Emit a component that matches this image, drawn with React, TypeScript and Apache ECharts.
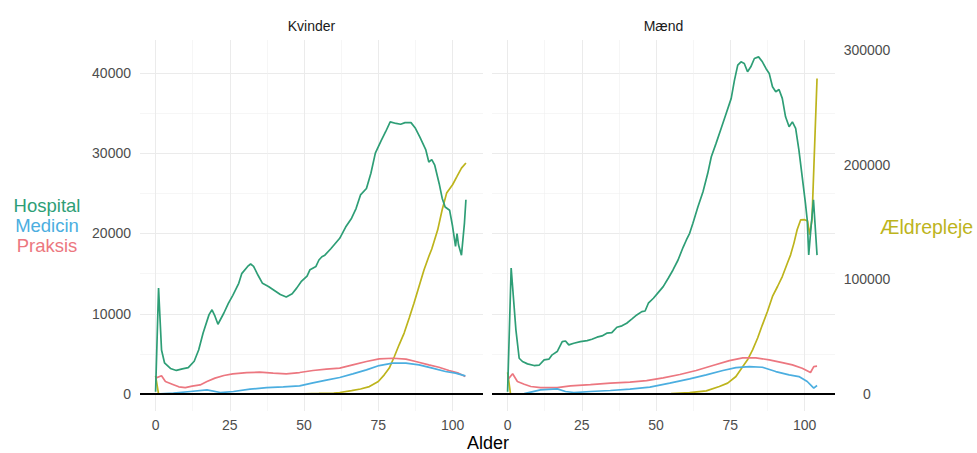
import React, { useEffect, useRef } from "react";
import * as echarts from "echarts";

// ---------- data ----------
const panels = ["Kvinder", "Mænd"];
const seriesNames = ["Hospital", "Medicin", "Praksis", "Ældrepleje"];
const ageRange = [0, 105];
const xTicks = [0, 25, 50, 75, 100];
const xMinorTicks = [12.5, 37.5, 62.5, 87.5];
const yTicks = [0, 10000, 20000, 30000, 40000];
const yMinorTicks = [5000, 15000, 25000, 35000];
const y2Ticks = [0, 100000, 200000, 300000];
const secondaryFactor = 7; // Ældrepleje drawn on a secondary axis = primary * 7

const kvinderHospital = [[0,300],[1,13200],[2,5500],[3,3900],[5,3200],[7,2950],[9,3150],[11,3300],[13,4100],[14.5,5500],[16,7600],[18,9900],[19,10500],[20,9700],[21,8700],[23,10100],[24.5,11300],[26,12300],[28,13800],[29,15000],[31,15900],[32,16200],[33,15900],[34.5,14800],[36,13800],[38,13400],[40,12900],[42,12400],[44,12100],[46,12500],[47.5,13200],[49,14000],[51,14700],[52,15500],[54,15900],[55,16700],[56,17100],[57,17300],[59,18100],[62,19400],[64,20800],[66,21900],[67.5,23100],[69,24800],[71,25600],[72.5,27500],[74,30000],[76,31600],[77.5,32700],[79,33900],[81,33700],[82.5,33600],[84,33800],[86,33800],[87.5,33100],[89,32000],[91,30400],[92,28900],[93,29200],[94,28500],[95.5,26200],[96.5,24400],[97.5,23300],[99,22900],[100,20900],[101,18400],[101.5,20000],[102,18600],[103,17300],[104,21300],[104.5,24200]];
const kvinderMedicin = [[0,0],[6,120],[11.7,330],[17.3,530],[21.8,200],[26.2,330],[31.8,620],[37.4,820],[43,910],[48.5,1030],[53,1410],[57.5,1740],[62,2070],[66.4,2530],[71,3020],[75.3,3560],[79.8,3850],[84.3,3850],[88.7,3640],[93.2,3230],[97.6,2820],[101,2610],[104.3,2280]];
const kvinderPraksis = [[0,1990],[2,2280],[3.3,1570],[5.6,1240],[7.8,910],[10,820],[12.3,990],[15,1150],[17.3,1570],[20,1990],[23,2320],[26,2520],[30.7,2690],[35,2730],[39.6,2610],[44,2530],[48.5,2690],[53,2940],[57.5,3110],[62,3230],[66.4,3640],[71,4060],[75.3,4390],[80,4470],[84.3,4350],[87.6,4060],[92,3640],[95.4,3350],[98.8,2940],[102,2610],[104.3,2190]];
const kvinderAeldrepleje = [[0,16000],[1,0],[10,0],[30,0],[50,300],[55,600],[60,1000],[62,1400],[66,3000],[69,4500],[72,6600],[75,11000],[77,16800],[78.7,22700],[80.4,32800],[82,43000],[83.7,53200],[85.4,66300],[87,79300],[88.7,93800],[90.4,108400],[92,120000],[93,126500],[95,143200],[96.5,160700],[98,175200],[100,182500],[101.5,189700],[103,197000],[104.5,201400]];

const maendHospital = [[0,300],[1.2,15700],[2.8,8000],[3.9,4470],[5,4060],[6.7,3770],[8.9,3560],[10.6,3600],[12.3,4270],[13.9,4350],[15,4890],[16.7,5300],[18.4,6540],[19.5,6620],[20.6,6130],[22.3,6340],[24.5,6540],[26.8,6670],[28.4,6840],[30.1,7090],[31.8,7250],[33.4,7590],[35.1,7650],[36.8,8330],[38.5,8500],[40.1,8830],[41.8,9330],[43.5,9860],[45.2,10270],[46.3,10350],[47.4,11320],[49.1,11940],[50.7,12640],[52.4,13380],[54.1,14430],[55.7,15460],[57.4,16700],[59.1,18280],[60.2,19190],[61.3,20020],[62.4,21270],[64.1,23330],[65.8,25200],[67.4,27490],[68.6,29550],[70.2,31220],[71.9,33080],[73.6,34950],[75.3,36820],[76.4,39090],[77.5,40960],[78.6,41370],[79.7,41170],[80.8,40130],[81.9,40750],[83.1,41790],[84.5,41990],[85.8,41370],[87,40550],[88.1,39930],[89.2,38260],[90.3,37640],[91.4,37930],[92.5,36820],[93.6,34530],[94.8,33280],[95.9,33900],[97,33080],[98.1,30390],[99.2,27070],[100.3,23760],[100.9,21680],[101.4,17330],[102,20000],[103,24200],[104.2,17300]];
const maendMedicin = [[0,0],[5.6,60],[11.1,530],[16.7,660],[19.5,330],[22.3,200],[27.9,330],[34.6,450],[41.2,620],[47.9,870],[54.6,1370],[61.3,1900],[66.9,2400],[72.5,2940],[76.9,3310],[81.4,3430],[85.8,3350],[90.3,2810],[94.8,2400],[98.1,2190],[100.9,1570],[103.1,750],[104.2,1070]];
const maendPraksis = [[0,1780],[1.7,2530],[3.3,1570],[5.6,1240],[7.8,950],[11.1,820],[16.7,820],[21.2,1030],[27.9,1190],[34.6,1370],[41.2,1490],[46.8,1690],[52.4,2030],[58,2440],[63.5,2940],[69.1,3560],[74.7,4180],[79.2,4520],[83.6,4520],[88.1,4270],[92.5,3930],[95.9,3640],[99.2,3230],[102,2690],[103.1,3430],[104.2,3480]];
const maendAeldrepleje = [[0,19000],[1,0],[20,0],[40,0],[55,500],[61.3,1400],[66.9,2880],[71.3,6630],[74.1,9590],[76.9,15400],[79.2,24100],[80.8,29900],[82.5,38600],[84.2,48900],[85.8,60400],[87.5,72000],[89.2,85100],[90.9,93800],[92.5,102500],[94.2,114100],[95.3,121400],[96.4,131400],[97.5,143200],[98.7,151900],[100,152000],[101,151000],[101.7,139000],[102.5,152000],[104.2,275000]];

const panelData = [
  { Hospital: kvinderHospital, Medicin: kvinderMedicin, Praksis: kvinderPraksis, "Ældrepleje": kvinderAeldrepleje },
  { Hospital: maendHospital, Medicin: maendMedicin, Praksis: maendPraksis, "Ældrepleje": maendAeldrepleje },
];

const colors: Record<string, string> = {
  Hospital: "#2E9E76",
  Medicin: "#4BAEE0",
  Praksis: "#EC7780",
  "Ældrepleje": "#BDB41C",
};

const FONT = "'Liberation Sans', Arial, Helvetica, sans-serif";
const plain = (v: number) => String(Math.round(v));

export default function App() {
  const ref = useRef<HTMLDivElement>(null);
  useEffect(() => {
    if (!ref.current) return;
    const chart = echarts.init(ref.current, undefined, { renderer: "svg" });

    // ggplot-like expansion (5%) on both axes
    const span = ageRange[1] - ageRange[0];
    const xMin = ageRange[0] - 0.05 * span;
    const xMax = ageRange[1] + 0.05 * span;
    let maxV = 0;
    panelData.forEach((p) => {
      ["Hospital", "Medicin", "Praksis"].forEach((k) => (p as any)[k].forEach((d: number[]) => (maxV = Math.max(maxV, d[1]))));
      p["Ældrepleje"].forEach((d) => (maxV = Math.max(maxV, d[1] / secondaryFactor)));
    });
    const yMax = maxV * 1.05;
    const yMin = -maxV * 0.05;

    const grids = panels.map((_, g) => ({ left: g === 0 ? 140 : 492, top: 40, width: 343, height: 371 }));

    const xAxis: any[] = [];
    const yAxis: any[] = [];
    const series: any[] = [];
    panels.forEach((_, g) => {
      xAxis.push({
        type: "value", gridIndex: g, min: xMin, max: xMax,
        axisLine: { show: false },
        axisTick: { show: false, customValues: xTicks },
        axisLabel: { customValues: xTicks, formatter: plain, color: "#4D4D4D", fontSize: 14, fontFamily: FONT, margin: 7 },
        splitLine: { show: true, lineStyle: { color: "#EBEBEB", width: 1 } },
      });
      xAxis.push({
        type: "value", gridIndex: g, min: xMin, max: xMax, position: "bottom",
        axisLine: { show: false },
        axisTick: { show: false, customValues: xMinorTicks },
        axisLabel: { show: false, customValues: xMinorTicks },
        splitLine: { show: true, lineStyle: { color: "#F0F0F0", width: 0.6 } },
      });
      yAxis.push({
        type: "value", gridIndex: g, min: yMin, max: yMax, position: "left",
        axisLine: { show: false },
        axisTick: { show: false, customValues: yTicks },
        axisLabel: { show: g === 0, customValues: yTicks, formatter: plain, color: "#4D4D4D", fontSize: 14, fontFamily: FONT, margin: 9 },
        splitLine: { show: true, lineStyle: { color: "#EBEBEB", width: 1 } },
      });
      yAxis.push({
        type: "value", gridIndex: g, min: yMin, max: yMax, position: "left",
        axisLine: { show: false },
        axisTick: { show: false, customValues: yMinorTicks },
        axisLabel: { show: false, customValues: yMinorTicks },
        splitLine: { show: true, lineStyle: { color: "#F0F0F0", width: 0.6 } },
      });
      yAxis.push({
        type: "value", gridIndex: g, min: yMin * secondaryFactor, max: yMax * secondaryFactor, position: "right",
        axisLine: { show: false },
        axisTick: { show: false, customValues: y2Ticks },
        axisLabel: { show: g === 1, customValues: y2Ticks, formatter: plain, color: "#4D4D4D", fontSize: 14, fontFamily: FONT, margin: 32, align: "center" },
        splitLine: { show: false },
      });

      const order = ["Ældrepleje", "Praksis", "Medicin", "Hospital"];
      order.forEach((name) => {
        const s: any = {
          name: panels[g] + " " + name,
          type: "line",
          xAxisIndex: 2 * g,
          yAxisIndex: name === "Ældrepleje" ? 3 * g + 2 : 3 * g,
          data: (panelData[g] as any)[name],
          showSymbol: false,
          symbol: "none",
          lineStyle: { color: colors[name], width: 1.7 },
          itemStyle: { color: colors[name] },
          silent: true,
        };
        if (name === "Hospital") {
          s.markLine = {
            silent: true,
            symbol: ["none", "none"],
            label: { show: false },
            lineStyle: { color: "#000000", width: 1.8, type: "solid" },
            data: [{ yAxis: 0 }],
          };
        }
        series.push(s);
      });
    });

    const txt = (text: string, x: number, y: number, fill: string, size: number, align = "center") => ({
      type: "text", x, y, silent: true,
      style: { text, fill, fontSize: size, fontFamily: FONT, align, textAlign: align, verticalAlign: "middle", textVerticalAlign: "middle" },
    });

    chart.setOption({
      animation: false,
      backgroundColor: "#FFFFFF",
      grid: grids,
      xAxis, yAxis, series,
      graphic: [
        txt(panels[0], 311.5, 26, "#1A1A1A", 14),
        txt(panels[1], 663.5, 26, "#1A1A1A", 14),
        txt(seriesNames[0], 47, 205, colors.Hospital, 18.5),
        txt(seriesNames[1], 47, 225, colors.Medicin, 18.5),
        txt(seriesNames[2], 47, 245, colors.Praksis, 18.5),
        txt(seriesNames[3], 880, 227, colors["Ældrepleje"], 19.5, "left"),
        txt("Alder", 488, 443, "#000000", 18),
      ],
    });
    return () => chart.dispose();
  }, []);
  return <div ref={ref} style={{ position: "fixed", left: 0, top: 0, width: 977, height: 453 }} />;
}
